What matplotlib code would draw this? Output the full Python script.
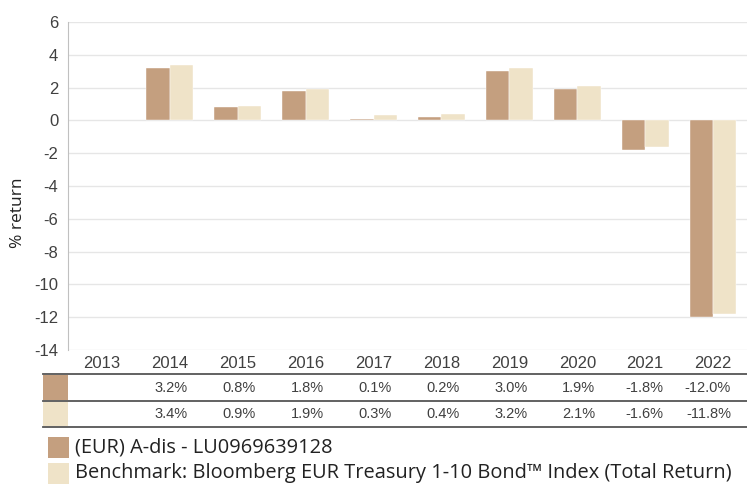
import matplotlib.pyplot as plt
import matplotlib.transforms as mtransforms
from matplotlib.lines import Line2D
from matplotlib.patches import Rectangle
import numpy as np

plt.rcParams['axes.unicode_minus'] = False

years = ['2013', '2014', '2015', '2016', '2017', '2018', '2019', '2020', '2021', '2022']
fund = [np.nan, 3.2, 0.8, 1.8, 0.1, 0.2, 3.0, 1.9, -1.8, -12.0]
bench = [np.nan, 3.4, 0.9, 1.9, 0.3, 0.4, 3.2, 2.1, -1.6, -11.8]
fund_name = '(EUR) A-dis - LU0969639128'
bench_name = 'Benchmark: Bloomberg EUR Treasury 1-10 Bond\u2122 Index (Total Return)'

c_fund = '#C49F7F'
c_bench = '#EFE3C8'
txt = '#404040'

W, H = 747, 484
fig = plt.figure(figsize=(W / 100, H / 100), dpi=100)
ax = fig.add_axes([68 / W, 1 - 350 / H, (747 - 68) / W, (350 - 22) / H])

def fy(py):
    return 1 - py / H

x = np.arange(len(years))
bw = 0.345
ax.bar(x - bw / 2, fund, bw, color=c_fund, edgecolor='white', linewidth=0.3, zorder=3)
ax.bar(x + bw / 2, bench, bw, color=c_bench, edgecolor='white', linewidth=0.3, zorder=3)

ax.set_xlim(-0.5, len(years) - 0.5)
ax.set_ylim(-14, 6)
ax.set_yticks(np.arange(-14, 7, 2))
ax.yaxis.grid(True, color='#e6e6e6', linewidth=1, zorder=0)
ax.tick_params(axis='y', length=0, pad=7, labelsize=12, labelcolor=txt)
ax.set_xticks(x)
ax.set_xticklabels(years)
ax.tick_params(axis='x', length=0, pad=4, labelsize=12, labelcolor=txt)
for s in ['top', 'right', 'bottom']:
    ax.spines[s].set_visible(False)
ax.spines['left'].set_color('#c0c0c0')
for lab in ax.get_yticklabels() + ax.get_xticklabels():
    lab.set_family('Liberation Sans')

fig.text(18 / W, fy(213), '% return', rotation=90, ha='center', va='center',
         fontsize=12.5, color='#222222', family='Open Sans')

# table below chart
tr = mtransforms.blended_transform_factory(ax.transData, fig.transFigure)
off = 18 / ((747 - 68) / len(years))
for i in range(len(years)):
    if not np.isnan(fund[i]):
        ax.text(x[i] + off, fy(388), f'{fund[i]:.1f}%', transform=tr, ha='right',
                va='center', fontsize=10.5, color=txt, family='Liberation Sans')
        ax.text(x[i] + off, fy(414), f'{bench[i]:.1f}%', transform=tr, ha='right',
                va='center', fontsize=10.5, color=txt, family='Liberation Sans')

for py in [374, 401, 427]:
    fig.add_artist(Line2D([43 / W, 1], [fy(py), fy(py)], color='#555555', linewidth=1.3))
fig.add_artist(Rectangle((43 / W, fy(400)), 25 / W, 25 / H, color=c_fund, linewidth=0))
fig.add_artist(Rectangle((43 / W, fy(426)), 25 / W, 24 / H, color=c_bench, linewidth=0))

# legend
fig.add_artist(Rectangle((48 / W, fy(458)), 21 / W, 21 / H, color=c_fund, linewidth=0))
fig.add_artist(Rectangle((48 / W, fy(484)), 21 / W, 21 / H, color=c_bench, linewidth=0))
fig.text(75 / W, fy(447), fund_name, ha='left', va='center', fontsize=14.4,
         color='#222222', family='Open Sans')
fig.text(75 / W, fy(473), bench_name, ha='left', va='center', fontsize=14.4,
         color='#222222', family='Open Sans')

fig.savefig('out.png', dpi=100)
